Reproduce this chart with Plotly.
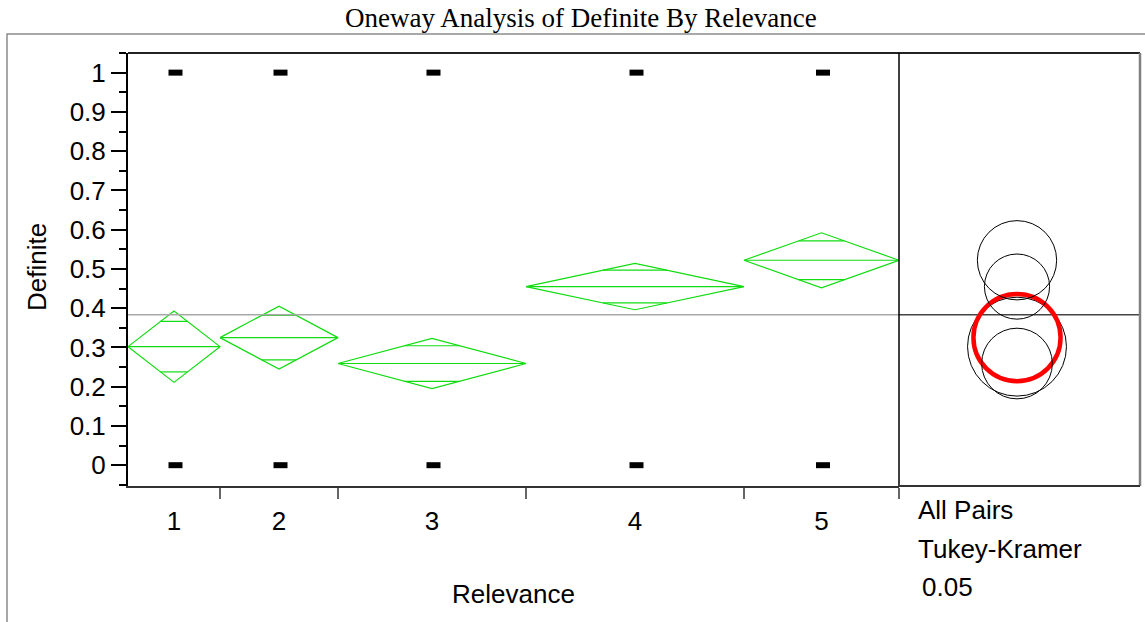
import numpy as np
import plotly.graph_objects as go

# ---------------- data ----------------
levels = ["1", "2", "3", "4", "5"]
group_sizes = [92, 118, 188, 218, 155]          # relative group sizes (category widths)
group_means = [0.302, 0.325, 0.259, 0.455, 0.522]
ci_half = [0.091, 0.080, 0.064, 0.059, 0.070]    # 95% CI half-widths (mean diamonds)
circle_radius = [0.126, 0.111, 0.090, 0.083, 0.101]  # Tukey-Kramer comparison circles
selected_level = "2"
grand_mean = 0.383
definite_values = [0, 1]
y_ticks = [round(0.1 * i, 1) for i in range(11)]

# ---------------- layout geometry ----------------
W, H = 1145, 622
ML, MR, MT, MB = 128, 5, 53, 136
PW = W - ML - MR
PH = H - MT - MB
total = float(sum(group_sizes))
main_px = 771
dx = main_px / PW
y_range = [-0.053, 1.05]
px_per_unit = PH / (y_range[1] - y_range[0])
panel_px = PW - main_px
circ_center_px = 118
x2_range = [-circ_center_px / px_per_unit, (panel_px - circ_center_px) / px_per_unit]

def pxx(px):
    return (px - ML) / PW

def pxy(py):
    return (H - MB - py) / PH

GREEN = "#10dc10"
SANS = "Arial, 'Liberation Sans', sans-serif"
SERIF = "'Times New Roman', 'Liberation Serif', serif"
FS = 26

edges = np.concatenate([[0.0], np.cumsum(group_sizes)])
centers = (edges[:-1] + edges[1:]) / 2

fig = go.Figure()

# mean diamonds
for i, lev in enumerate(levels):
    L, R, C = edges[i], edges[i + 1], centers[i]
    m, h = group_means[i], ci_half[i]
    d = h / np.sqrt(2)
    hw = (R - L) / 2 * (1 - 1 / np.sqrt(2))
    xs = [L, C, R, C, L, None, L, R, None, C - hw, C + hw, None, C - hw, C + hw]
    ys = [m, m + h, m, m - h, m, None, m, m, None, m + d, m + d, None, m - d, m - d]
    fig.add_trace(go.Scatter(x=xs, y=ys, mode="lines",
                             line=dict(color=GREEN, width=1.2),
                             hoverinfo="skip", showlegend=False, cliponaxis=False))

# raw points
px_, py_ = [], []
for i, lev in enumerate(levels):
    for v in definite_values:
        px_.append(centers[i] + 1.5)
        py_.append(v)
fig.add_trace(go.Scatter(x=px_, y=py_, mode="markers",
                         marker=dict(symbol="line-ew", size=10,
                                     line=dict(width=6, color="black")),
                         showlegend=False))

# invisible trace on right panel so the axis exists
fig.add_trace(go.Scatter(x=[0], y=[grand_mean], xaxis="x2", yaxis="y",
                         mode="markers", marker=dict(opacity=0),
                         hoverinfo="skip", showlegend=False))

shapes = []
# grand mean line
shapes.append(dict(type="line", xref="x", yref="y", x0=0, x1=total,
                   y0=grand_mean, y1=grand_mean, line=dict(color="#a8a8a8", width=1.5)))
shapes.append(dict(type="line", xref="x2 domain", yref="y", x0=0, x1=1,
                   y0=grand_mean, y1=grand_mean, line=dict(color="#444444", width=1.5)))
# comparison circles
for i, lev in enumerate(levels):
    r = circle_radius[i]
    m = group_means[i]
    sel = lev == selected_level
    shapes.append(dict(type="circle", xref="x2", yref="y",
                       x0=-r, x1=r, y0=m - r, y1=m + r,
                       line=dict(color="red" if sel else "black", width=4.5 if sel else 1),
                       layer="above"))
# frames
shapes += [
    dict(type="line", xref="paper", yref="paper", x0=0, x1=1, y0=1, y1=1,
         line=dict(color="#222222", width=2)),
    dict(type="line", xref="paper", yref="paper", x0=dx, x1=dx, y0=0, y1=1,
         line=dict(color="black", width=1.5)),
    dict(type="line", xref="paper", yref="paper", x0=1, x1=1, y0=0, y1=1,
         line=dict(color="#808080", width=2.5)),
    dict(type="line", xref="paper", yref="paper", x0=dx, x1=1, y0=0, y1=0,
         line=dict(color="#333333", width=2)),
    dict(type="path", xref="paper", yref="paper",
         path=f"M {pxx(7)} {pxy(660)} L {pxx(7)} {pxy(34)} L {pxx(1170)} {pxy(34)}",
         line=dict(color="#8c8c8c", width=1.5)),
]

annotations = [
    dict(text="Oneway Analysis of Definite By Relevance", xref="paper", yref="paper",
         x=pxx(581), y=pxy(18), xanchor="center", yanchor="middle", showarrow=False,
         font=dict(family=SERIF, size=27, color="black")),
    dict(text="Definite", xref="paper", yref="paper", x=pxx(37), y=pxy(267),
         xanchor="center", yanchor="middle", textangle=-90, showarrow=False,
         font=dict(family=SANS, size=FS, color="black")),
    dict(text="Relevance", xref="paper", yref="paper", x=pxx(513), y=pxy(594),
         xanchor="center", yanchor="middle", showarrow=False,
         font=dict(family=SANS, size=FS, color="black")),
    dict(text="All Pairs", xref="paper", yref="paper", x=pxx(916), y=pxy(510),
         xanchor="left", yanchor="middle", showarrow=False,
         font=dict(family=SANS, size=FS, color="black")),
    dict(text="Tukey-Kramer", xref="paper", yref="paper", x=pxx(916), y=pxy(549),
         xanchor="left", yanchor="middle", showarrow=False,
         font=dict(family=SANS, size=FS, color="black")),
    dict(text="0.05", xref="paper", yref="paper", x=pxx(920), y=pxy(587),
         xanchor="left", yanchor="middle", showarrow=False,
         font=dict(family=SANS, size=FS, color="black")),
]

fig.update_layout(
    width=W, height=H,
    margin=dict(l=ML, r=MR, t=MT, b=MB, pad=0),
    paper_bgcolor="white", plot_bgcolor="white",
    showlegend=False,
    shapes=shapes, annotations=annotations,
    xaxis=dict(domain=[0, dx], range=[0, total], tickmode="array",
               tickvals=list(centers), ticktext=levels,
               ticks="outside", ticklen=11, tickcolor="rgba(0,0,0,0)",
               tickfont=dict(family=SANS, size=FS, color="black"),
               showline=True, linecolor="#333333", linewidth=2,
               showgrid=False, zeroline=False,
               minor=dict(tickmode="array", tickvals=list(edges[1:]), ticks="outside",
                          ticklen=11, tickwidth=1.5, tickcolor="#666666", showgrid=False)),
    xaxis2=dict(domain=[dx, 1], range=x2_range, anchor="y", visible=False,
                showgrid=False, zeroline=False),
    yaxis=dict(range=y_range, tickmode="array", tickvals=y_ticks,
               ticktext=[f"{v:g}" for v in y_ticks],
               ticks="outside", ticklen=15, tickwidth=2, tickcolor="black",
               tickfont=dict(family=SANS, size=FS, color="black"),
               showline=True, linecolor="black", linewidth=2,
               showgrid=False, zeroline=False,
               minor=dict(dtick=0.05, tick0=0, ticks="outside", ticklen=7,
                          tickwidth=2, tickcolor="black", showgrid=False)),
)

fig.write_html("out.html")
